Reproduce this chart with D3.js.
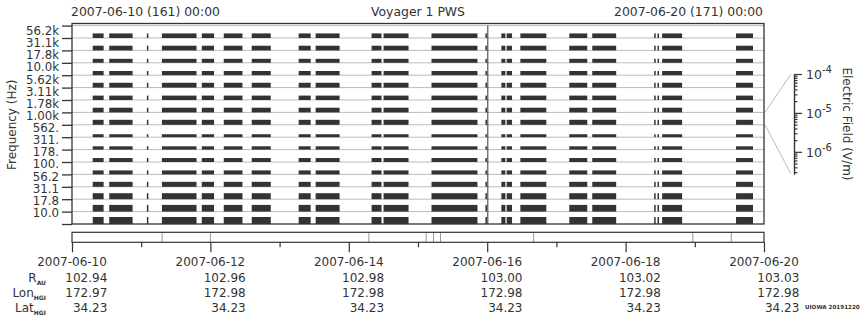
<!DOCTYPE html>
<html>
<head>
<meta charset="utf-8">
<script src="https://cdn.jsdelivr.net/npm/d3@7"></script>
<style>
  body { margin: 0; background: #fff; }
  svg text { font-family: "DejaVu Sans", sans-serif; fill: #333; }
</style>
</head>
<body>
<svg id="chart" width="860" height="320"></svg>
<script>
// frequency channels, top to bottom
const channels = ["56.2k", "31.1k", "17.8k", "10.0k", "5.62k", "3.11k", "1.78k", "1.00k",
                  "562.", "311.", "178.", "100.", "56.2", "31.1", "17.8", "10.0"];
// typical field level in each channel (V/m)
const fieldLevel = [2.4e-6, 2.5e-6, 1.8e-6, 2.0e-6, 2.7e-6, 2.2e-6, 2.5e-6, 2.9e-6,
                    1.1e-6, 1.3e-6, 1.8e-6, 1.8e-6, 2.9e-6, 4.7e-6, 6.6e-6, 7.6e-6];
// data segments, in days after 2007-06-10 00:00
const segStart = [0.299, 0.538, 1.082, 1.299, 1.876, 2.193, 2.597, 3.276, 3.521, 4.329, 4.502,
                  5.195, 5.974, 6.205, 6.281, 6.479, 7.186, 7.518, 8.413, 8.461, 8.528, 9.596];
const segEnd   = [0.457, 0.876, 1.097, 1.799, 2.053, 2.463, 2.872, 3.449, 3.867, 4.473, 4.863,
                  5.859, 5.996, 6.263, 6.359, 6.854, 7.446, 7.864, 8.427, 8.475, 8.817, 9.841];
// separators in the coverage strip (days)
const coverMarks = [1.302, 2.0, 4.29, 5.118, 5.224, 5.325, 6.671, 8.971, 9.528];
const spikeDay = 5.99;

// bottom table
const tickDates = ["2007-06-10", "2007-06-12", "2007-06-14", "2007-06-16", "2007-06-18", "2007-06-20"];
const rAU = ["102.94", "102.96", "102.98", "103.00", "103.02", "103.03"];
const lonHGI = ["172.97", "172.98", "172.98", "172.98", "172.98", "172.98"];
const latHGI = ["34.23", "34.23", "34.23", "34.23", "34.23", "34.23"];

// colour bar
const eMin = Math.pow(10, -6.57), eMax = 1e-4;
const eMajor = [1e-4, 1e-5, 1e-6];
const eExp = ["-4", "-5", "-6"];

const svg = d3.select("#chart");
const ink = "#333", grid = "#bbb";

const x0 = 72, x1 = 764, yTop = 23.5, y0 = 25.6, y1 = 224;
const t0 = new Date(Date.UTC(2007, 5, 10)), t1 = new Date(Date.UTC(2007, 5, 20));
const day = d => d3.utcMinute.offset(t0, Math.round(d * 1440));

const x = d3.scaleUtc().domain([t0, t1]).range([x0, x1]);
const y = d3.scaleLinear().domain([0, channels.length]).range([y0, y1]);
const yLab = d3.scaleLinear().domain([0, channels.length - 1]).range([30.8, 212.6]);
const strip = y(1) - y(0);
const h = d3.scaleLog().domain([eMin, eMax]).range([0, strip]);

// header
svg.append("text").attr("x", 71).attr("y", 15.5).style("font-size", "12.4px").text("2007-06-10 (161) 00:00");
svg.append("text").attr("x", 763).attr("y", 15.5).attr("text-anchor", "end").style("font-size", "12.4px").text("2007-06-20 (171) 00:00");
svg.append("text").attr("x", (x0 + x1) / 2).attr("y", 15.5).attr("text-anchor", "middle").style("font-size", "12.4px").text("Voyager 1 PWS");

// baselines
svg.append("g").selectAll("line").data(d3.range(channels.length)).join("line")
  .attr("x1", x0).attr("x2", x1)
  .attr("y1", d => y(d)).attr("y2", d => y(d))
  .attr("stroke", grid).attr("stroke-width", 1);

// bars
const rows = svg.append("g").selectAll("g").data(channels).join("g");
rows.selectAll("rect").data((c, i) => segStart.map((s, k) => ({ s, e: segEnd[k], i })))
  .join("rect")
  .attr("x", d => x(day(d.s)))
  .attr("width", d => Math.max(1.5, x(day(d.e)) - x(day(d.s))))
  .attr("y", d => y(d.i + 1) - h(fieldLevel[d.i]))
  .attr("height", d => h(fieldLevel[d.i]))
  .attr("fill", ink);

svg.append("line")
  .attr("x1", x(day(spikeDay)) + 1.3).attr("x2", x(day(spikeDay)) + 1.3)
  .attr("y1", yTop + 2).attr("y2", y1)
  .attr("stroke", ink).attr("stroke-width", 1);

// frame
svg.append("rect").attr("x", x0).attr("y", yTop).attr("width", x1 - x0).attr("height", y1 - yTop)
  .attr("fill", "none").attr("stroke", ink).attr("stroke-width", 1.3);

// y axis
const yAxis = d3.axisLeft(y).tickValues(d3.range(channels.length + 1)).tickSize(10).tickSizeOuter(0).tickFormat("");
const gy = svg.append("g").attr("transform", `translate(${x0},0)`).call(yAxis);
gy.select(".domain").remove();
gy.selectAll("line").attr("stroke", ink).attr("stroke-width", 1.3);

svg.append("g").selectAll("text").data(channels).join("text")
  .attr("x", 59).attr("y", (d, i) => yLab(i) + 4.3)
  .attr("text-anchor", "end").style("font-size", "11.8px")
  .text(d => d);

svg.append("text")
  .attr("transform", `translate(16,${(y0 + y1) / 2}) rotate(-90)`)
  .attr("text-anchor", "middle").style("font-size", "12px")
  .text("Frequency (Hz)");

// colour bar
const cbX = 794, cbTop = 74, cbBot = 174;
const e = d3.scaleLog().domain([eMin, eMax]).range([cbBot, cbTop]);
const cb = svg.append("g").attr("transform", `translate(${cbX},0)`);
cb.call(d3.axisRight(e).tickValues(e.ticks().filter(v => !eMajor.includes(v))).tickSize(3.5).tickSizeOuter(0).tickFormat(""));
cb.call(g => g.append("g").call(d3.axisRight(e).tickValues(eMajor).tickSize(8).tickSizeOuter(0).tickFormat("")));
cb.selectAll("path, line").attr("stroke", ink).attr("stroke-width", 1.2);

const lab = cb.append("g").selectAll("text").data(eMajor).join("text")
  .attr("x", 12).attr("y", d => e(d) + 5).style("font-size", "12.5px");
lab.append("tspan").text("10");
lab.append("tspan").attr("dy", -6).style("font-size", "10px").text((d, i) => eExp[i]);

// zoom lines from the 1.00k strip to the colour bar
const iz = channels.indexOf("1.00k");
svg.append("line").attr("x1", x1 + 1).attr("y1", y(iz)).attr("x2", cbX - 3).attr("y2", cbTop)
  .attr("stroke", grid).attr("stroke-width", 1);
svg.append("line").attr("x1", x1 + 1).attr("y1", y(iz + 1)).attr("x2", cbX - 3).attr("y2", cbBot)
  .attr("stroke", grid).attr("stroke-width", 1);

svg.append("text")
  .attr("transform", `translate(843,124) rotate(90)`)
  .attr("text-anchor", "middle").style("font-size", "12px")
  .text("Electric Field (V/m)");

// coverage strip
const sTop = 232.3, sBot = 242.3;
svg.append("g").selectAll("line").data(coverMarks).join("line")
  .attr("x1", d => x(day(d))).attr("x2", d => x(day(d)))
  .attr("y1", sTop).attr("y2", sBot)
  .attr("stroke", "#999").attr("stroke-width", 1);
svg.append("rect").attr("x", x0).attr("y", sTop).attr("width", x1 - x0).attr("height", sBot - sTop)
  .attr("fill", "none").attr("stroke", ink).attr("stroke-width", 1.2);

const allDays = d3.utcDay.range(t0, d3.utcDay.offset(t1, 1));
const majorT = allDays.filter((d, i) => i % 2 === 0);
const minorT = allDays.filter((d, i) => i % 2 === 1);
const gx = svg.append("g").attr("transform", `translate(0,${sBot})`);
gx.call(d3.axisBottom(x).tickValues(majorT).tickSize(10).tickSizeOuter(0).tickFormat(""));
gx.call(g => g.append("g").call(d3.axisBottom(x).tickValues(minorT).tickSize(5).tickSizeOuter(0).tickFormat("")));
gx.selectAll(".domain").remove();
gx.selectAll("line").attr("stroke", ink).attr("stroke-width", 1.2);

// table below the axis
const parseDay = d3.utcParse("%Y-%m-%d");
const cols = tickDates.map(d => x(parseDay(d)));
const rowY = [265.7, 281.7, 296.7, 311.7];
svg.append("g").selectAll("text").data(tickDates).join("text")
  .attr("x", (d, i) => cols[i]).attr("y", rowY[0]).attr("text-anchor", "middle")
  .style("font-size", "12px").text(d => d);
[rAU, lonHGI, latHGI].forEach((vals, r) => {
  svg.append("g").selectAll("text").data(vals).join("text")
    .attr("x", (d, i) => cols[i] + 35.3).attr("y", rowY[r + 1]).attr("text-anchor", "end")
    .style("font-size", "12px").text(d => d);
});

const rowNames = [["R", "AU"], ["Lon", "HGI"], ["Lat", "HGI"]];
rowNames.forEach((n, r) => {
  const t = svg.append("text").attr("x", 46).attr("y", rowY[r + 1]).attr("text-anchor", "end")
    .style("font-size", "12px");
  t.append("tspan").text(n[0]);
  t.append("tspan").attr("dy", 3).style("font-size", "6px").style("font-weight", "bold").text(n[1]);
});

svg.append("text").attr("x", 805).attr("y", 308.5)
  .style("font-size", "5.6px").style("font-weight", "bold").text("UIOWA 20191220");
</script>
</body>
</html>
